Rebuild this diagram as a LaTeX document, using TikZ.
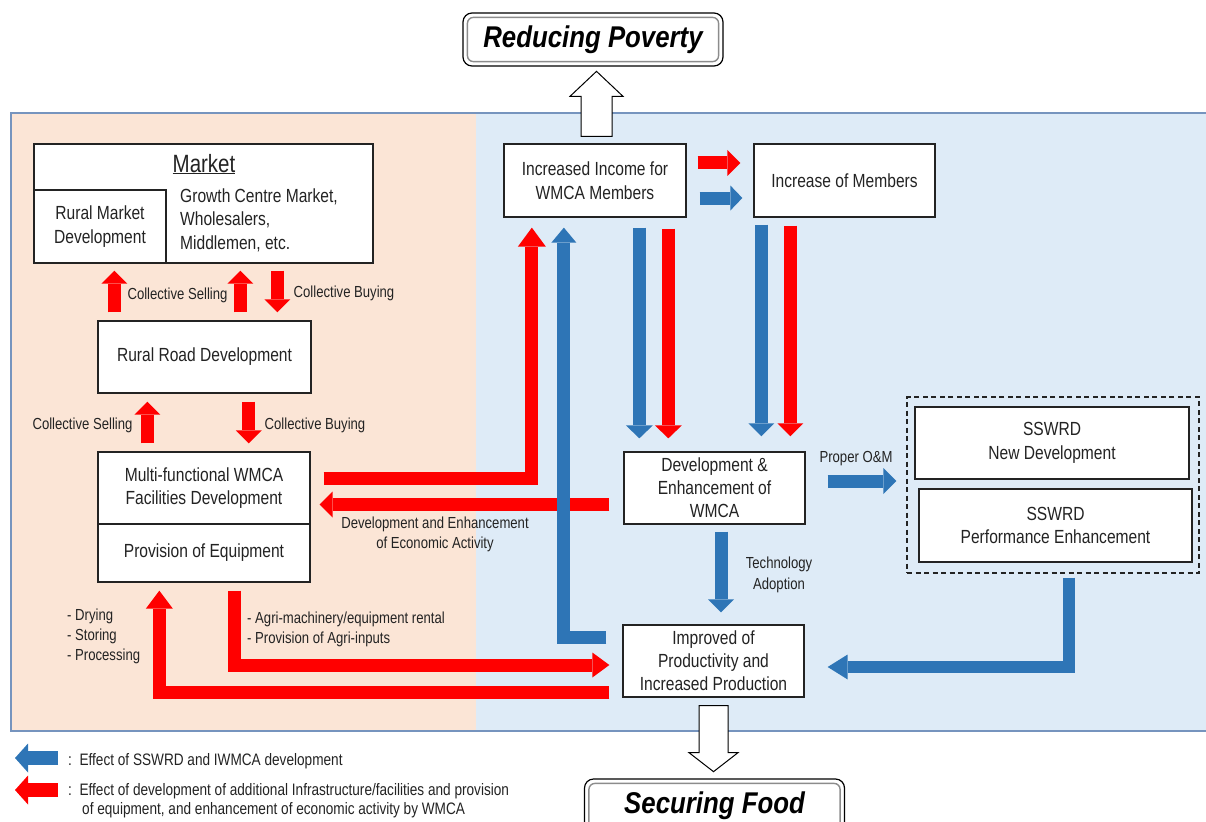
\documentclass[tikz,border=0pt]{standalone}
\usepackage{fontspec}
\setmainfont[FakeStretch=0.82]{Liberation Sans}
\newfontfamily\headfont[FakeStretch=0.86]{Liberation Sans}
\usetikzlibrary{arrows.meta,calc}

\definecolor{flowred}{RGB}{255,0,0}
\definecolor{flowblue}{RGB}{46,117,182}
\definecolor{peach}{RGB}{251,229,214}
\definecolor{paleblue}{RGB}{222,235,247}
\definecolor{framecol}{RGB}{118,148,190}
\definecolor{ink}{RGB}{35,35,35}

\tikzset{
  box/.style={draw=ink, line width=1.3pt, fill=white, inner sep=0pt, align=center,
    text=ink, font=\fontsize{19}{23.5}\selectfont},
  lbl/.style={inner sep=0pt, text=ink, font=\fontsize{16}{20}\selectfont},
  leg/.style={inner sep=0pt, text=ink, font=\fontsize{16.6}{20}\selectfont},
  goalbox/.style={draw=black, line width=1.2pt, fill=white, rounded corners=9pt,
    minimum width=260pt, minimum height=53pt, inner sep=0pt, text=black,
    font=\headfont\bfseries\itshape\fontsize{30}{30}\selectfont},
  goalinner/.style={draw=black!45, line width=1.4pt, rounded corners=6pt},
  hollow/.style={draw=black, fill=white, line width=1pt, line join=miter},
  redflow/.style={draw=flowred, line width=13pt, line join=miter},
  blueflow/.style={draw=flowblue, line width=13pt, line join=miter},
  blockhead/.style n args={2}{-{Triangle[width=#1pt,length=#2pt,line width=0pt]}},
}

\begin{document}
\begin{tikzpicture}[x=1pt,y=-1pt]
\useasboundingbox (0,0) rectangle (1206,821);
\clip (0,0) rectangle (1206,821);

% two coloured panels and their frame
\fill[peach] (11,113) rectangle (476,731);
\fill[paleblue] (476,113) rectangle (1215,731);
\draw[framecol, line width=2pt] (1215,113) -- (11,113) -- (11,731) -- (1215,731);

% goals
\node[goalbox] (poverty) at (593,39.5) {Reducing Poverty};
\draw[goalinner] ($(poverty.north west)+(5,5)$) rectangle ($(poverty.south east)+(-5,-5)$);
\node[goalbox] (food) at (714.5,805.5) {Securing Food};
\draw[goalinner] ($(food.north west)+(5,5)$) rectangle ($(food.south east)+(-5,-5)$);

% market block
\node[box, minimum width=339pt, minimum height=119pt] (market) at (203.5,203.5) {};
\node[box, minimum width=132pt, minimum height=73pt] (rmd) at (100,226.5) {Rural Market\\Development};
\node[inner sep=0pt, text=ink, anchor=base, font=\fontsize{25}{25}\selectfont] (mtitle) at (204,172) {\underline{Market}};
\node[inner sep=0pt, text=ink, anchor=west, align=left, font=\fontsize{19}{23.5}\selectfont] (growth) at (180,220)
  {Growth Centre Market,\\Wholesalers,\\Middlemen, etc.};

% left column
\node[box, minimum width=213pt, minimum height=72pt] (road) at (204.5,357) {Rural Road Development};
\node[box, minimum width=212pt, minimum height=72pt] (mfac) at (204,488) {Multi-functional WMCA\\Facilities Development};
\node[box, minimum width=212pt, minimum height=58pt] (equip) at (204,553) {Provision of Equipment};

% right column
\node[box, minimum width=182pt, minimum height=73pt] (income) at (595,180.5) {Increased Income for\\WMCA Members};
\node[box, minimum width=181pt, minimum height=73pt] (members) at (844.5,180.5) {Increase of Members};
\node[box, minimum width=181pt, minimum height=72pt, font=\fontsize{19}{23}\selectfont] (dev) at (714.5,488) {Development \&\\Enhancement of\\WMCA};
\node[box, minimum width=181pt, minimum height=72pt, font=\fontsize{19}{23}\selectfont] (impr) at (713.5,661) {Improved of\\Productivity and\\Increased Production};

% SSWRD group
\node[draw=ink, line width=1.2pt, dash pattern=on 5pt off 3.5pt, minimum width=292pt, minimum height=176pt, inner sep=0pt] (sswrdgroup) at (1053,485) {};
\node[box, minimum width=274pt, minimum height=72pt] (sswrdnew) at (1052,443) {SSWRD\\New Development};
\node[box, minimum width=273pt, minimum height=73pt] (sswrdperf) at (1055.5,525.5) {SSWRD\\Performance Enhancement};

% labels
\node[lbl, anchor=base] (cs1) at (177.5,299) {Collective Selling};
\node[lbl, anchor=base] (cb1) at (344,297) {Collective Buying};
\node[lbl, anchor=base] (cs2) at (82.5,429) {Collective Selling};
\node[lbl, anchor=base] (cb2) at (315,429) {Collective Buying};
\node[lbl, align=center] (econ) at (435,534) {Development and Enhancement\\of Economic Activity};
\node[lbl, anchor=base] (om) at (856,462) {Proper O\&M};
\node[lbl, align=center, font=\fontsize{16}{21}\selectfont] (tech) at (779,574.5) {Technology\\Adoption};
\node[lbl, anchor=west, align=left] (uses) at (67,636) {- Drying\\- Storing\\- Processing};
\node[lbl, anchor=west, align=left] (agri) at (247,629) {- Agri-machinery/equipment rental\\- Provision of Agri-inputs};

% market links
\draw[redflow, blockhead={26}{13}] ($(road.north west)+(17,-8)$) -- ($(market.south west)+(81,7)$);
\draw[redflow, blockhead={26}{13}] ($(road.north west)+(143,-8)$) -- ($(market.south west)+(207,7)$);
\draw[redflow, blockhead={26}{13}] ($(market.south west)+(244,7)$) -- ($(road.north west)+(180,-8)$);
\draw[redflow, blockhead={26}{13}] ($(mfac.north west)+(50,-8)$) -- ($(road.south west)+(50,8)$);
\draw[redflow, blockhead={26}{13}] ($(road.south west)+(151.5,8)$) -- ($(mfac.north west)+(151.5,-8)$);

% economic activity flows
\draw[redflow, blockhead={28}{19}] ($(mfac.east)+(13,-10)$) -| ($(income.south west)+(28.5,10)$);
\draw[redflow, blockhead={26}{13}] ($(dev.west)+(-14,16.5)$) -- ($(mfac.east)+(9,16.5)$);
\draw[redflow, blockhead={25}{17}] ($(equip.south west)+(137,8)$) |- ($(impr.west)+(-13,4)$);
\draw[redflow, blockhead={27}{18}] ($(impr.west)+(-13,31)$) -| ($(equip.south west)+(62,8)$);
\draw[blueflow, blockhead={25}{15}] ($(impr.west)+(-16,-23.5)$) -| ($(income.south west)+(60.5,10)$);

% income and membership
\draw[redflow, blockhead={26}{13}] ($(income.east)+(11,-17.5)$) -- ($(members.west)+(-13,-17.5)$);
\draw[blueflow, blockhead={25}{12}] ($(income.east)+(13,17.5)$) -- ($(members.west)+(-11,17.5)$);
\draw[blueflow, blockhead={27}{13}] ($(income.south west)+(136,10)$) -- ($(dev.north west)+(16,-13)$);
\draw[redflow, blockhead={27}{13}] ($(income.south west)+(165,11)$) -- ($(dev.north west)+(45,-13)$);
\draw[blueflow, blockhead={26}{13}] ($(members.south west)+(8,7)$) -- ($(dev.north west)+(138,-15)$);
\draw[redflow, blockhead={26}{13}] ($(members.south west)+(37,8)$) -- ($(dev.north west)+(167,-15)$);

% WMCA, SSWRD and production
\draw[blueflow, blockhead={26}{13}] ($(dev.east)+(22,-7)$) -- ($(sswrdgroup.west)+(-10,-4)$);
\draw[blueflow, blockhead={26}{13}] ($(dev.south)+(6.5,7)$) -- ($(impr.north)+(7.5,-12)$);
\draw[blueflow, line width=12pt, blockhead={25}{20}] ($(sswrdgroup.south)+(16,4)$) |- ($(impr.east)+(23,6)$);

% hollow arrows to the goals
\coordinate (upbase) at ($(income.north)+(1.5,-7)$);
\draw[hollow, shift={(upbase)}] (-15.5,0) -- (-15.5,-40) -- (-26.5,-40) -- (0,-65)
  -- (26.5,-40) -- (15.5,-40) -- (15.5,0) -- cycle;
\coordinate (downbase) at ($(impr.south)+(0,8)$);
\draw[hollow, shift={(downbase)}] (-14.5,0) -- (-14.5,47) -- (-24.5,47) -- (0,66)
  -- (24.5,47) -- (14.5,47) -- (14.5,0) -- cycle;

% legend
\node[leg, anchor=base west] (legblue) at (68,765) {:\ \ Effect of SSWRD and IWMCA development};
\node[leg, anchor=base west] (legred) at (68,795) {:\ \ Effect of development of additional Infrastructure/facilities and provision};
\node[leg, anchor=base west] (legred2) at (82,814) {of equipment, and enhancement of economic activity by WMCA};
\draw[blueflow, line width=14pt, blockhead={29}{13}] ($(legblue.base west)+(-10,-7)$) -- ($(legblue.base west)+(-53,-7)$);
\draw[redflow, line width=14pt, blockhead={29}{13}] ($(legred.base west)+(-10,-5)$) -- ($(legred.base west)+(-53,-5)$);
\end{tikzpicture}
\end{document}
